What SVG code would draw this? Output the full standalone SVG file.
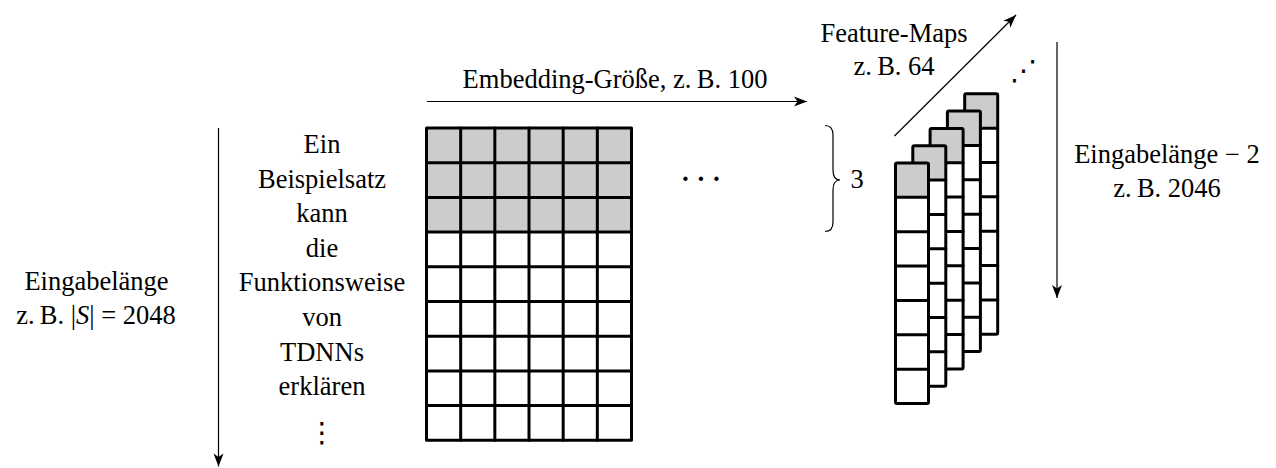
<svg xmlns="http://www.w3.org/2000/svg" xmlns:xlink="http://www.w3.org/1999/xlink" width="1276" height="468" viewBox="0 0 1276 468">
  <style>
    .lbl { font-family: "Liberation Serif", "Times New Roman", serif; font-size: 26.5px; fill: #000; text-anchor: middle; }
    .dots { font-family: "DejaVu Sans", sans-serif; font-size: 28px; fill: #000; text-anchor: middle; }
    .cellgrid { fill: none; stroke: #000; stroke-width: 3; stroke-linejoin: round; stroke-linecap: round; }
    .gray { fill: #cccccc; }
    .white { fill: #ffffff; }
    .conn { fill: none; stroke: #000; stroke-width: 1.2; }
  </style>
  <defs>
    <marker id="arrow" viewBox="-14 -6 15 12" refX="0" refY="0" markerWidth="15" markerHeight="12" markerUnits="userSpaceOnUse" orient="auto">
      <path d="M0,0 L-13,-5 L-9.5,0 L-13,5 Z" fill="#000"/>
    </marker>
    <!-- one feature map: a column of 7 cells, the first one shaded -->
    <g id="fmap">
      <rect class="white" x="0" y="0" width="33" height="240.5"/>
      <rect class="gray" x="0" y="0" width="33" height="34.36"/>
      <rect class="cellgrid" x="0" y="0" width="33" height="240.5" rx="1.5"/>
      <path class="cellgrid" d="M0,34.36 H33 M0,68.71 H33 M0,103.07 H33 M0,137.43 H33 M0,171.79 H33 M0,206.14 H33"/>
    </g>
  </defs>

  <!-- input matrix: sentence length x embedding size -->
  <g id="input-matrix">
    <rect class="white" x="426.5" y="128" width="205" height="312.3"/>
    <rect class="gray" x="426.5" y="128" width="205" height="104.1"/>
    <rect class="cellgrid" x="426.5" y="128" width="205" height="312.3"/>
    <path class="cellgrid" d="M460.67,128 V440.3 M494.83,128 V440.3 M529,128 V440.3 M563.17,128 V440.3 M597.33,128 V440.3
      M426.5,162.7 H631.5 M426.5,197.4 H631.5 M426.5,232.1 H631.5 M426.5,266.8 H631.5 M426.5,301.5 H631.5
      M426.5,336.2 H631.5 M426.5,370.9 H631.5 M426.5,405.6 H631.5"/>
  </g>

  <!-- words of the example sentence, one per row -->
  <g id="sentence">
    <text class="lbl" x="322" y="153">Ein</text>
    <text class="lbl" x="322" y="187.6">Beispielsatz</text>
    <text class="lbl" x="322" y="222.2">kann</text>
    <text class="lbl" x="322" y="256.8">die</text>
    <text class="lbl" x="322" y="291.4">Funktionsweise</text>
    <text class="lbl" x="322" y="326">von</text>
    <text class="lbl" x="322" y="360.6">TDNNs</text>
    <text class="lbl" x="322" y="395.2">erklären</text>
    <text class="dots" x="322" y="442" font-size="26">⋮</text>
  </g>

  <!-- output feature maps, drawn back to front -->
  <g id="feature-maps">
    <use xlink:href="#fmap" x="964.7" y="93.8"/>
    <use xlink:href="#fmap" x="947.4" y="111.1"/>
    <use xlink:href="#fmap" x="930.1" y="128.4"/>
    <use xlink:href="#fmap" x="912.8" y="145.7"/>
    <use xlink:href="#fmap" x="895.5" y="163"/>
  </g>

  <g id="connectors">
    <line class="conn" x1="218.5" y1="128" x2="218.5" y2="466.5" marker-end="url(#arrow)"/>
    <line class="conn" x1="427" y1="101.5" x2="807" y2="101.5" marker-end="url(#arrow)"/>
    <line class="conn" x1="894.5" y1="136" x2="1016" y2="15" marker-end="url(#arrow)"/>
    <line class="conn" x1="1057" y1="42" x2="1057" y2="298" marker-end="url(#arrow)"/>
    <path class="conn" d="M825,125.5 C830.5,125.5 833,128.5 833,135 L833,170 C833,176 835.5,180 840,180 C835.5,180 833,184 833,190 L833,222 C833,228.5 830.5,231.5 825,231.5"/>
  </g>

  <g id="labels">
    <text class="lbl" x="615" y="88.3">Embedding-Größe, z.&#8201;B. 100</text>
    <text class="lbl" x="894" y="41.7">Feature-Maps</text>
    <text class="lbl" x="894" y="75">z.&#8201;B. 64</text>
    <text class="lbl" x="1167" y="163.3">Eingabelänge − 2</text>
    <text class="lbl" x="1167" y="196.7">z.&#8201;B. 2046</text>
    <text class="lbl" x="96.5" y="290">Eingabelänge</text>
    <text class="lbl" x="96" y="324">z.&#8201;B. |<tspan font-style="italic">S</tspan>| = 2048</text>
    <text class="lbl" x="857" y="188.3">3</text>
    <text class="lbl" x="701" y="187.5" font-size="24" font-weight="bold">· · ·</text>
    <text class="dots" x="1023.7" y="80">⋰</text>
  </g>
</svg>
